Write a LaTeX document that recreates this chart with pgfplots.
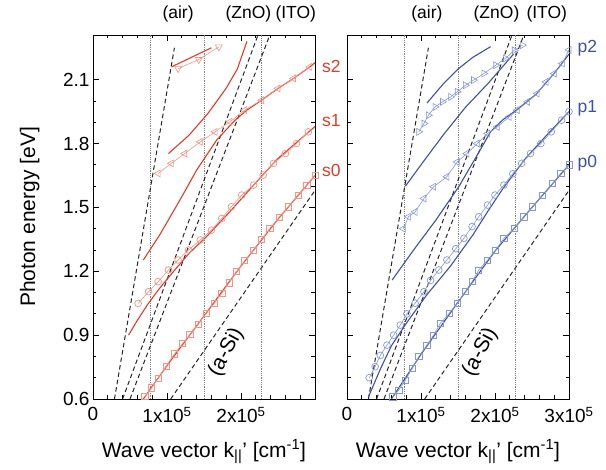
\documentclass[border=0pt]{standalone}
\usepackage{pgfplots}
\pgfplotsset{compat=1.18}
\usepackage{fontspec}
\setmainfont{Liberation Sans}

\definecolor{sred}{HTML}{E23B2A}
\definecolor{sredm}{HTML}{F29383}
\definecolor{pblu}{HTML}{3F50A0}
\definecolor{pblum}{HTML}{8597D4}

\newcommand{\fbig}{\fontsize{21}{24}\selectfont}
\newcommand{\ftick}{\fontsize{19}{22}\selectfont}
\newcommand{\fmid}{\fontsize{17.5}{20}\selectfont}

\pgfplotsset{
  panel/.style={
    scale only axis, width=222pt, height=364pt,
    xmin=0, xmax=3, ymin=0.6, ymax=2.31,
    xtick={0,1,2,3}, minor x tick num=4,
    ytick={0.6,0.9,1.2,1.5,1.8,2.1}, minor y tick num=2,
    tick align=inside, tick pos=both,
    major tick length=6pt, minor tick length=3.5pt,
    axis line style={line width=0.8pt}, tick style={line width=0.7pt, black},
    tick label style={font=\ftick}, label style={font=\fbig},
    xticklabel style={yshift=-5pt},
    xlabel style={at={(axis description cs:0.5,-0.145)}, anchor=center},
    clip=false,
    xlabel={Wave vector k\textsubscript{||}' [cm\textsuperscript{-1}]},
  },
  vline/.style={gray, densely dotted, line width=0.8pt},
  lite/.style={black!85, line width=1pt, dash pattern=on 4.5pt off 3pt},
  mk/.style={line width=0.6pt, mark size=3.4pt, mark options={solid, line width=0.7pt}},
}

% shared guide lines
\newcommand{\guides}{%
  \addplot[vline] coordinates {(0.77,0.6) (0.77,2.31)};
  \addplot[vline] coordinates {(1.51,0.6) (1.51,2.31)};
  \addplot[vline] coordinates {(2.27,0.6) (2.27,2.31)};
  \addplot[lite] coordinates {(0.29,0.6) (1.10,2.25)};
  \addplot[lite] coordinates {(0.40,0.6) (2.23,2.31)};
  \addplot[lite] coordinates {(0.50,0.6) (2.39,2.31)};
  \addplot[lite] coordinates {(1.05,0.6) (3.00,1.58)};
}

\begin{document}
\begin{tikzpicture}
\path (0pt,0pt) rectangle (606pt,470pt);

% ---------------- left panel (s modes) ----------------
\begin{axis}[panel, at={(93pt,71pt)}, anchor=south west,
  xticklabels={0,1x10\textsuperscript{5},2x10\textsuperscript{5},{}},
  yticklabels={0.6,0.9,1.2,1.5,1.8,2.1},
  ylabel={Photon energy [eV]},
  ylabel style={at={(axis description cs:-0.285,0.5)}, anchor=center}]
\guides

% s0
\addplot[sred, line width=1.1pt] coordinates {
  (0.68,0.60) (1.0,0.757) (1.5,0.99) (2.0,1.225) (2.5,1.445) (3.0,1.65)};
\addplot[sredm, mk, mark=square, mark size=3.1pt] coordinates {
  (0.70,0.611) (0.79,0.652) (0.88,0.697) (0.99,0.755) (1.10,0.812) (1.21,0.860)
  (1.31,0.902) (1.42,0.952) (1.53,1.002) (1.64,1.050) (1.74,1.096) (1.84,1.146)
  (1.94,1.198) (2.05,1.250) (2.17,1.300) (2.28,1.350) (2.39,1.401) (2.52,1.455)
  (2.64,1.503) (2.77,1.555) (2.89,1.605) (3.00,1.650)};

% s1
\addplot[sred, line width=1.1pt] coordinates {
  (0.48,0.90) (0.60,0.97) (0.75,1.05) (0.90,1.12) (1.09,1.20) (1.30,1.285)
  (1.54,1.365) (1.85,1.48) (2.23,1.628) (2.5,1.73) (2.75,1.805) (3.0,1.88)};
\addplot[sredm, mk, mark=o] coordinates {
  (0.61,1.049) (0.75,1.104) (0.88,1.151) (1.02,1.206) (1.15,1.253) (1.29,1.300)
  (1.45,1.347) (1.60,1.393) (1.74,1.448) (1.87,1.503) (2.01,1.558) (2.17,1.605)
  (2.30,1.652) (2.44,1.707) (2.60,1.753) (2.75,1.800) (2.91,1.855)};

% s2
\addplot[sred, line width=1.1pt] coordinates {
  (0.68,1.253) (0.9,1.37) (1.2,1.55) (1.40,1.675) (1.67,1.816) (1.92,1.91)
  (2.08,1.957) (2.28,2.004) (2.5,2.059) (2.71,2.106) (2.93,2.16) (3.0,2.18)};
\addplot[sredm, mk, mark=triangle, mark size=4pt, mark options={rotate=90}] coordinates {
  (0.88,1.660) (1.06,1.707) (1.24,1.753) (1.45,1.808) (1.65,1.855) (1.85,1.902)
  (2.05,1.957) (2.28,2.004) (2.50,2.059) (2.71,2.106) (2.93,2.160)};
\addplot[sred, line width=1.1pt] coordinates {
  (1.02,1.753) (1.3,1.84) (1.55,1.94) (1.8,2.06) (1.95,2.15) (2.08,2.28)};
\addplot[sred, line width=1.1pt] coordinates {
  (1.06,2.16) (1.3,2.20) (1.60,2.25)};
\addplot[sredm, mk, mark=triangle, mark size=4pt, mark options={rotate=180}] coordinates {
  (1.15,2.152) (1.43,2.195) (1.70,2.254)};

\node[font=\fmid] at (axis cs:1.15,2.41) {(air)};
\node[font=\fmid] at (axis cs:2.10,2.41) {(ZnO)};
\node[font=\fmid] at (axis cs:2.74,2.41) {(ITO)};
\node[font=\fbig, rotate=62] at (axis cs:1.80,0.82) {(a-Si)};
\node[sred, font=\fmid, anchor=west] at (axis cs:3.05,2.16) {s2};
\node[sred, font=\fmid, anchor=west] at (axis cs:3.05,1.91) {s1};
\node[sred, font=\fmid, anchor=west] at (axis cs:3.05,1.675) {s0};
\end{axis}

% ---------------- right panel (p modes) ----------------
\begin{axis}[panel, at={(347pt,71pt)}, anchor=south west,
  xticklabels={0,1x10\textsuperscript{5},2x10\textsuperscript{5},3x10\textsuperscript{5}},
  yticklabels={}]
\guides

% p0
\addplot[pblu, line width=1.1pt] coordinates {
  (0.60,0.60) (1.0,0.81) (1.5,1.055) (2.0,1.295) (2.5,1.50) (3.0,1.70)};
\addplot[pblum, mk, mark=square, mark size=3.1pt] coordinates {
  (0.62,0.610) (0.70,0.642) (0.79,0.689) (0.88,0.744) (0.97,0.799) (1.08,0.853)
  (1.17,0.900) (1.26,0.955) (1.38,1.002) (1.49,1.049) (1.60,1.104) (1.69,1.151)
  (1.78,1.206) (1.90,1.253) (2.01,1.300) (2.12,1.355) (2.26,1.401) (2.39,1.456)
  (2.51,1.503) (2.64,1.558) (2.78,1.613) (2.89,1.660) (3.00,1.700)};

% p1
\addplot[pblu, line width=1.1pt] coordinates {
  (0.29,0.61) (0.45,0.74) (0.60,0.85) (0.80,0.955) (1.08,1.09) (1.40,1.225)
  (1.70,1.37) (1.90,1.48) (2.10,1.585) (2.40,1.725) (2.70,1.84) (3.0,1.95)};
\addplot[pblum, mk, mark=o] coordinates {
  (0.30,0.700) (0.38,0.752) (0.45,0.805) (0.54,0.853) (0.63,0.900) (0.72,0.947)
  (0.81,1.000) (0.92,1.050) (1.04,1.104) (1.13,1.157) (1.24,1.206) (1.35,1.253)
  (1.47,1.306) (1.58,1.355) (1.69,1.410) (1.78,1.456) (1.90,1.511) (2.00,1.558)
  (2.12,1.605) (2.24,1.658) (2.36,1.707) (2.48,1.753) (2.62,1.800) (2.76,1.855)
  (2.90,1.910) (3.00,1.950)};

% p2
\addplot[pblu, line width=1.1pt] coordinates {
  (0.61,1.159) (0.9,1.30) (1.2,1.44) (1.51,1.597) (1.75,1.74) (1.94,1.855)
  (2.10,1.91) (2.30,1.96) (2.55,2.03) (2.80,2.13) (3.0,2.22)};
\addplot[pblum, mk, mark=triangle, mark size=4pt, mark options={rotate=90}] coordinates {
  (0.76,1.400) (0.83,1.456) (0.92,1.479) (1.04,1.542) (1.17,1.597) (1.35,1.644)
  (1.49,1.714) (1.62,1.753) (1.76,1.800) (1.90,1.847) (2.03,1.878) (2.19,1.925)
  (2.30,1.957) (2.44,1.996) (2.57,2.035) (2.69,2.090) (2.80,2.129) (2.91,2.176)
  (3.00,2.240)};
\addplot[pblu, line width=1.1pt] coordinates {
  (0.79,1.60) (1.0,1.70) (1.3,1.84) (1.6,1.97) (1.9,2.08) (2.25,2.22)};
\addplot[pblum, mk, mark=triangle, mark size=4pt, mark options={rotate=-90}] coordinates {
  (0.97,1.855) (1.04,1.894) (1.10,1.933) (1.19,1.972) (1.29,1.996) (1.40,2.019)
  (1.49,2.043) (1.60,2.074) (1.71,2.098) (1.85,2.129) (2.01,2.168) (2.14,2.200)
  (2.26,2.238) (2.37,2.262)};
\addplot[pblu, line width=1.1pt] coordinates {
  (1.08,1.99) (1.3,2.08) (1.5,2.15) (1.7,2.205) (1.94,2.255)};

\node[font=\fmid] at (axis cs:1.08,2.41) {(air)};
\node[font=\fmid] at (axis cs:2.02,2.41) {(ZnO)};
\node[font=\fmid] at (axis cs:2.70,2.41) {(ITO)};
\node[font=\fbig, rotate=62] at (axis cs:1.80,0.82) {(a-Si)};
\node[pblu, font=\fmid, anchor=west] at (axis cs:3.07,2.25) {p2};
\node[pblu, font=\fmid, anchor=west] at (axis cs:3.07,1.965) {p1};
\node[pblu, font=\fmid, anchor=west] at (axis cs:3.07,1.71) {p0};
\end{axis}
\end{tikzpicture}
\end{document}
